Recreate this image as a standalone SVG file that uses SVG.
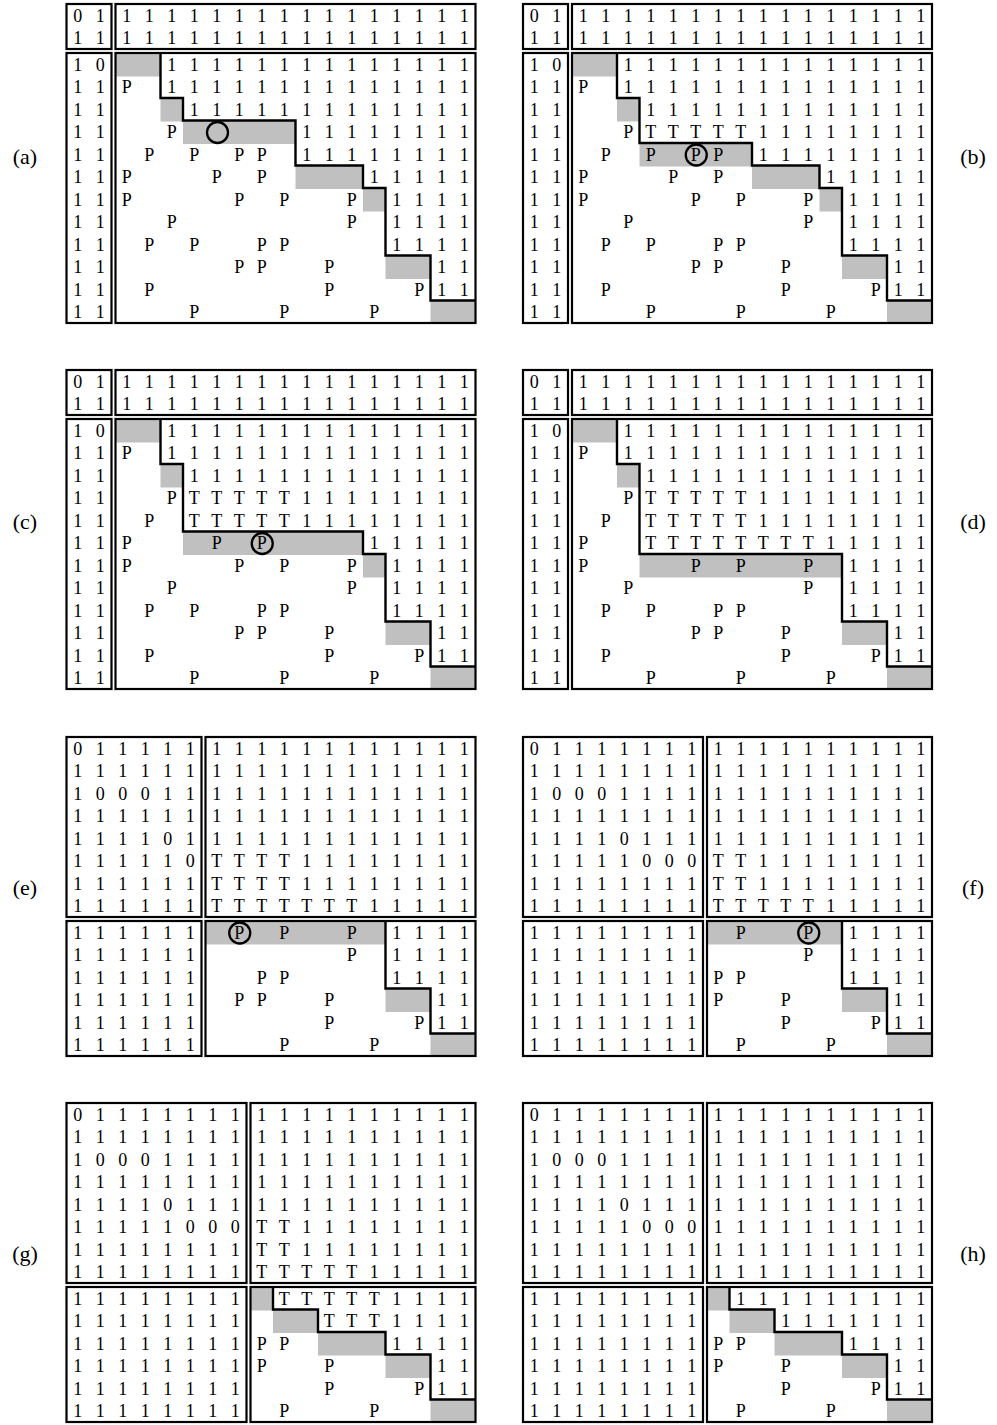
<svg xmlns="http://www.w3.org/2000/svg" width="997" height="1425" viewBox="0 0 997 1425">
<style>
.t{font-family:"Liberation Serif","Times New Roman",serif;font-size:18px;text-anchor:middle;fill:#000}
.lbl{font-family:"Liberation Serif","Times New Roman",serif;font-size:22px;text-anchor:middle;fill:#000}
.blk{fill:none;stroke:#000;stroke-width:2.2}
.g{fill:#c0c0c0}
.st{fill:none;stroke:#000;stroke-width:2.4;stroke-linejoin:miter}
.c{fill:none;stroke:#000;stroke-width:2.3}
</style>
<rect x="0" y="0" width="997" height="1425" fill="#fff"/>
<g id="labels">
<text class="lbl" x="25" y="163.5">(a)</text>
<text class="lbl" x="973" y="163.5">(b)</text>
<text class="lbl" x="25" y="529">(c)</text>
<text class="lbl" x="973" y="529">(d)</text>
<text class="lbl" x="25" y="894.5">(e)</text>
<text class="lbl" x="973" y="894.5">(f)</text>
<text class="lbl" x="25" y="1260.5">(g)</text>
<text class="lbl" x="973" y="1260.5">(h)</text>
</g>

<g id="panel-a" transform="translate(66.5,4)">
<rect class="g" x="49" y="49" width="45" height="23.5"/>
<rect class="g" x="94" y="94" width="22.5" height="23.5"/>
<rect class="g" x="116.5" y="116.5" width="112.5" height="23.5"/>
<rect class="g" x="229" y="161.5" width="67.5" height="23.5"/>
<rect class="g" x="296.5" y="184" width="22.5" height="23.5"/>
<rect class="g" x="319" y="251.5" width="45" height="23.5"/>
<rect class="g" x="364" y="296.5" width="45" height="22.5"/>
<text class="t" y="17.5" x="11.25 33.75 60.25 82.75 105.25 127.75 150.25 172.75 195.25 217.75 240.25 262.75 285.25 307.75 330.25 352.75 375.25 397.75">011111111111111111</text>
<text class="t" y="40" x="11.25 33.75 60.25 82.75 105.25 127.75 150.25 172.75 195.25 217.75 240.25 262.75 285.25 307.75 330.25 352.75 375.25 397.75">111111111111111111</text>
<text class="t" y="66.5" x="11.25 33.75 105.25 127.75 150.25 172.75 195.25 217.75 240.25 262.75 285.25 307.75 330.25 352.75 375.25 397.75">1011111111111111</text>
<text class="t" y="89" x="11.25 33.75 60.25 105.25 127.75 150.25 172.75 195.25 217.75 240.25 262.75 285.25 307.75 330.25 352.75 375.25 397.75">11P11111111111111</text>
<text class="t" y="111.5" x="11.25 33.75 127.75 150.25 172.75 195.25 217.75 240.25 262.75 285.25 307.75 330.25 352.75 375.25 397.75">111111111111111</text>
<text class="t" y="134" x="11.25 33.75 105.25 240.25 262.75 285.25 307.75 330.25 352.75 375.25 397.75">11P11111111</text>
<text class="t" y="156.5" x="11.25 33.75 82.75 127.75 172.75 195.25 240.25 262.75 285.25 307.75 330.25 352.75 375.25 397.75">11PPPP11111111</text>
<text class="t" y="179" x="11.25 33.75 60.25 150.25 195.25 307.75 330.25 352.75 375.25 397.75">11PPP11111</text>
<text class="t" y="201.5" x="11.25 33.75 60.25 172.75 217.75 285.25 330.25 352.75 375.25 397.75">11PPPP1111</text>
<text class="t" y="224" x="11.25 33.75 105.25 285.25 330.25 352.75 375.25 397.75">11PP1111</text>
<text class="t" y="246.5" x="11.25 33.75 82.75 127.75 195.25 217.75 330.25 352.75 375.25 397.75">11PPPP1111</text>
<text class="t" y="269" x="11.25 33.75 172.75 195.25 262.75 375.25 397.75">11PPP11</text>
<text class="t" y="291.5" x="11.25 33.75 82.75 262.75 352.75 375.25 397.75">11PPP11</text>
<text class="t" y="314" x="11.25 33.75 127.75 217.75 307.75">11PPP</text>
<rect class="blk" x="0" y="0" width="45" height="45"/>
<rect class="blk" x="49" y="0" width="360" height="45"/>
<rect class="blk" x="0" y="49" width="45" height="270"/>
<rect class="blk" x="49" y="49" width="360" height="270"/>
<path class="st" d="M94,49V94H116.5V116.5H229V161.5H296.5V184H319V251.5H364V296.5H409"/>
<circle class="c" cx="151" cy="128.5" r="10.5"/>
</g>

<g id="panel-b" transform="translate(523,4)">
<rect class="g" x="49" y="49" width="45" height="23.5"/>
<rect class="g" x="94" y="94" width="22.5" height="23.5"/>
<rect class="g" x="116.5" y="139" width="112.5" height="23.5"/>
<rect class="g" x="229" y="161.5" width="67.5" height="23.5"/>
<rect class="g" x="296.5" y="184" width="22.5" height="23.5"/>
<rect class="g" x="319" y="251.5" width="45" height="23.5"/>
<rect class="g" x="364" y="296.5" width="45" height="22.5"/>
<text class="t" y="17.5" x="11.25 33.75 60.25 82.75 105.25 127.75 150.25 172.75 195.25 217.75 240.25 262.75 285.25 307.75 330.25 352.75 375.25 397.75">011111111111111111</text>
<text class="t" y="40" x="11.25 33.75 60.25 82.75 105.25 127.75 150.25 172.75 195.25 217.75 240.25 262.75 285.25 307.75 330.25 352.75 375.25 397.75">111111111111111111</text>
<text class="t" y="66.5" x="11.25 33.75 105.25 127.75 150.25 172.75 195.25 217.75 240.25 262.75 285.25 307.75 330.25 352.75 375.25 397.75">1011111111111111</text>
<text class="t" y="89" x="11.25 33.75 60.25 105.25 127.75 150.25 172.75 195.25 217.75 240.25 262.75 285.25 307.75 330.25 352.75 375.25 397.75">11P11111111111111</text>
<text class="t" y="111.5" x="11.25 33.75 127.75 150.25 172.75 195.25 217.75 240.25 262.75 285.25 307.75 330.25 352.75 375.25 397.75">111111111111111</text>
<text class="t" y="134" x="11.25 33.75 105.25 127.75 150.25 172.75 195.25 217.75 240.25 262.75 285.25 307.75 330.25 352.75 375.25 397.75">11PTTTTT11111111</text>
<text class="t" y="156.5" x="11.25 33.75 82.75 127.75 172.75 195.25 240.25 262.75 285.25 307.75 330.25 352.75 375.25 397.75">11PPPP11111111</text>
<text class="t" y="179" x="11.25 33.75 60.25 150.25 195.25 307.75 330.25 352.75 375.25 397.75">11PPP11111</text>
<text class="t" y="201.5" x="11.25 33.75 60.25 172.75 217.75 285.25 330.25 352.75 375.25 397.75">11PPPP1111</text>
<text class="t" y="224" x="11.25 33.75 105.25 285.25 330.25 352.75 375.25 397.75">11PP1111</text>
<text class="t" y="246.5" x="11.25 33.75 82.75 127.75 195.25 217.75 330.25 352.75 375.25 397.75">11PPPP1111</text>
<text class="t" y="269" x="11.25 33.75 172.75 195.25 262.75 375.25 397.75">11PPP11</text>
<text class="t" y="291.5" x="11.25 33.75 82.75 262.75 352.75 375.25 397.75">11PPP11</text>
<text class="t" y="314" x="11.25 33.75 127.75 217.75 307.75">11PPP</text>
<rect class="blk" x="0" y="0" width="45" height="45"/>
<rect class="blk" x="49" y="0" width="360" height="45"/>
<rect class="blk" x="0" y="49" width="45" height="270"/>
<rect class="blk" x="49" y="49" width="360" height="270"/>
<path class="st" d="M94,49V94H116.5V139H229V161.5H296.5V184H319V251.5H364V296.5H409"/>
<circle class="c" cx="173.25" cy="151" r="10.5"/>
</g>

<g id="panel-c" transform="translate(66.5,370)">
<rect class="g" x="49" y="49" width="45" height="23.5"/>
<rect class="g" x="94" y="94" width="22.5" height="23.5"/>
<rect class="g" x="116.5" y="161.5" width="180" height="23.5"/>
<rect class="g" x="296.5" y="184" width="22.5" height="23.5"/>
<rect class="g" x="319" y="251.5" width="45" height="23.5"/>
<rect class="g" x="364" y="296.5" width="45" height="22.5"/>
<text class="t" y="17.5" x="11.25 33.75 60.25 82.75 105.25 127.75 150.25 172.75 195.25 217.75 240.25 262.75 285.25 307.75 330.25 352.75 375.25 397.75">011111111111111111</text>
<text class="t" y="40" x="11.25 33.75 60.25 82.75 105.25 127.75 150.25 172.75 195.25 217.75 240.25 262.75 285.25 307.75 330.25 352.75 375.25 397.75">111111111111111111</text>
<text class="t" y="66.5" x="11.25 33.75 105.25 127.75 150.25 172.75 195.25 217.75 240.25 262.75 285.25 307.75 330.25 352.75 375.25 397.75">1011111111111111</text>
<text class="t" y="89" x="11.25 33.75 60.25 105.25 127.75 150.25 172.75 195.25 217.75 240.25 262.75 285.25 307.75 330.25 352.75 375.25 397.75">11P11111111111111</text>
<text class="t" y="111.5" x="11.25 33.75 127.75 150.25 172.75 195.25 217.75 240.25 262.75 285.25 307.75 330.25 352.75 375.25 397.75">111111111111111</text>
<text class="t" y="134" x="11.25 33.75 105.25 127.75 150.25 172.75 195.25 217.75 240.25 262.75 285.25 307.75 330.25 352.75 375.25 397.75">11PTTTTT11111111</text>
<text class="t" y="156.5" x="11.25 33.75 82.75 127.75 150.25 172.75 195.25 217.75 240.25 262.75 285.25 307.75 330.25 352.75 375.25 397.75">11PTTTTT11111111</text>
<text class="t" y="179" x="11.25 33.75 60.25 150.25 195.25 307.75 330.25 352.75 375.25 397.75">11PPP11111</text>
<text class="t" y="201.5" x="11.25 33.75 60.25 172.75 217.75 285.25 330.25 352.75 375.25 397.75">11PPPP1111</text>
<text class="t" y="224" x="11.25 33.75 105.25 285.25 330.25 352.75 375.25 397.75">11PP1111</text>
<text class="t" y="246.5" x="11.25 33.75 82.75 127.75 195.25 217.75 330.25 352.75 375.25 397.75">11PPPP1111</text>
<text class="t" y="269" x="11.25 33.75 172.75 195.25 262.75 375.25 397.75">11PPP11</text>
<text class="t" y="291.5" x="11.25 33.75 82.75 262.75 352.75 375.25 397.75">11PPP11</text>
<text class="t" y="314" x="11.25 33.75 127.75 217.75 307.75">11PPP</text>
<rect class="blk" x="0" y="0" width="45" height="45"/>
<rect class="blk" x="49" y="0" width="360" height="45"/>
<rect class="blk" x="0" y="49" width="45" height="270"/>
<rect class="blk" x="49" y="49" width="360" height="270"/>
<path class="st" d="M94,49V94H116.5V161.5H296.5V184H319V251.5H364V296.5H409"/>
<circle class="c" cx="195.75" cy="173.5" r="10.5"/>
</g>

<g id="panel-d" transform="translate(523,370)">
<rect class="g" x="49" y="49" width="45" height="23.5"/>
<rect class="g" x="94" y="94" width="22.5" height="23.5"/>
<rect class="g" x="116.5" y="184" width="202.5" height="23.5"/>
<rect class="g" x="319" y="251.5" width="45" height="23.5"/>
<rect class="g" x="364" y="296.5" width="45" height="22.5"/>
<text class="t" y="17.5" x="11.25 33.75 60.25 82.75 105.25 127.75 150.25 172.75 195.25 217.75 240.25 262.75 285.25 307.75 330.25 352.75 375.25 397.75">011111111111111111</text>
<text class="t" y="40" x="11.25 33.75 60.25 82.75 105.25 127.75 150.25 172.75 195.25 217.75 240.25 262.75 285.25 307.75 330.25 352.75 375.25 397.75">111111111111111111</text>
<text class="t" y="66.5" x="11.25 33.75 105.25 127.75 150.25 172.75 195.25 217.75 240.25 262.75 285.25 307.75 330.25 352.75 375.25 397.75">1011111111111111</text>
<text class="t" y="89" x="11.25 33.75 60.25 105.25 127.75 150.25 172.75 195.25 217.75 240.25 262.75 285.25 307.75 330.25 352.75 375.25 397.75">11P11111111111111</text>
<text class="t" y="111.5" x="11.25 33.75 127.75 150.25 172.75 195.25 217.75 240.25 262.75 285.25 307.75 330.25 352.75 375.25 397.75">111111111111111</text>
<text class="t" y="134" x="11.25 33.75 105.25 127.75 150.25 172.75 195.25 217.75 240.25 262.75 285.25 307.75 330.25 352.75 375.25 397.75">11PTTTTT11111111</text>
<text class="t" y="156.5" x="11.25 33.75 82.75 127.75 150.25 172.75 195.25 217.75 240.25 262.75 285.25 307.75 330.25 352.75 375.25 397.75">11PTTTTT11111111</text>
<text class="t" y="179" x="11.25 33.75 60.25 127.75 150.25 172.75 195.25 217.75 240.25 262.75 285.25 307.75 330.25 352.75 375.25 397.75">11PTTTTTTTT11111</text>
<text class="t" y="201.5" x="11.25 33.75 60.25 172.75 217.75 285.25 330.25 352.75 375.25 397.75">11PPPP1111</text>
<text class="t" y="224" x="11.25 33.75 105.25 285.25 330.25 352.75 375.25 397.75">11PP1111</text>
<text class="t" y="246.5" x="11.25 33.75 82.75 127.75 195.25 217.75 330.25 352.75 375.25 397.75">11PPPP1111</text>
<text class="t" y="269" x="11.25 33.75 172.75 195.25 262.75 375.25 397.75">11PPP11</text>
<text class="t" y="291.5" x="11.25 33.75 82.75 262.75 352.75 375.25 397.75">11PPP11</text>
<text class="t" y="314" x="11.25 33.75 127.75 217.75 307.75">11PPP</text>
<rect class="blk" x="0" y="0" width="45" height="45"/>
<rect class="blk" x="49" y="0" width="360" height="45"/>
<rect class="blk" x="0" y="49" width="45" height="270"/>
<rect class="blk" x="49" y="49" width="360" height="270"/>
<path class="st" d="M94,49V94H116.5V184H319V251.5H364V296.5H409"/>
</g>

<g id="panel-e" transform="translate(66.5,737)">
<rect class="g" x="139" y="184" width="180" height="23.5"/>
<rect class="g" x="319" y="251.5" width="45" height="23.5"/>
<rect class="g" x="364" y="296.5" width="45" height="22.5"/>
<text class="t" y="17.5" x="11.25 33.75 56.25 78.75 101.25 123.75 150.25 172.75 195.25 217.75 240.25 262.75 285.25 307.75 330.25 352.75 375.25 397.75">011111111111111111</text>
<text class="t" y="40" x="11.25 33.75 56.25 78.75 101.25 123.75 150.25 172.75 195.25 217.75 240.25 262.75 285.25 307.75 330.25 352.75 375.25 397.75">111111111111111111</text>
<text class="t" y="62.5" x="11.25 33.75 56.25 78.75 101.25 123.75 150.25 172.75 195.25 217.75 240.25 262.75 285.25 307.75 330.25 352.75 375.25 397.75">100011111111111111</text>
<text class="t" y="85" x="11.25 33.75 56.25 78.75 101.25 123.75 150.25 172.75 195.25 217.75 240.25 262.75 285.25 307.75 330.25 352.75 375.25 397.75">111111111111111111</text>
<text class="t" y="107.5" x="11.25 33.75 56.25 78.75 101.25 123.75 150.25 172.75 195.25 217.75 240.25 262.75 285.25 307.75 330.25 352.75 375.25 397.75">111101111111111111</text>
<text class="t" y="130" x="11.25 33.75 56.25 78.75 101.25 123.75 150.25 172.75 195.25 217.75 240.25 262.75 285.25 307.75 330.25 352.75 375.25 397.75">111110TTTT11111111</text>
<text class="t" y="152.5" x="11.25 33.75 56.25 78.75 101.25 123.75 150.25 172.75 195.25 217.75 240.25 262.75 285.25 307.75 330.25 352.75 375.25 397.75">111111TTTT11111111</text>
<text class="t" y="175" x="11.25 33.75 56.25 78.75 101.25 123.75 150.25 172.75 195.25 217.75 240.25 262.75 285.25 307.75 330.25 352.75 375.25 397.75">111111TTTTTTT11111</text>
<text class="t" y="201.5" x="11.25 33.75 56.25 78.75 101.25 123.75 172.75 217.75 285.25 330.25 352.75 375.25 397.75">111111PPP1111</text>
<text class="t" y="224" x="11.25 33.75 56.25 78.75 101.25 123.75 285.25 330.25 352.75 375.25 397.75">111111P1111</text>
<text class="t" y="246.5" x="11.25 33.75 56.25 78.75 101.25 123.75 195.25 217.75 330.25 352.75 375.25 397.75">111111PP1111</text>
<text class="t" y="269" x="11.25 33.75 56.25 78.75 101.25 123.75 172.75 195.25 262.75 375.25 397.75">111111PPP11</text>
<text class="t" y="291.5" x="11.25 33.75 56.25 78.75 101.25 123.75 262.75 352.75 375.25 397.75">111111PP11</text>
<text class="t" y="314" x="11.25 33.75 56.25 78.75 101.25 123.75 217.75 307.75">111111PP</text>
<rect class="blk" x="0" y="0" width="135" height="180"/>
<rect class="blk" x="139" y="0" width="270" height="180"/>
<rect class="blk" x="0" y="184" width="135" height="135"/>
<rect class="blk" x="139" y="184" width="270" height="135"/>
<path class="st" d="M319,184V251.5H364V296.5H409"/>
<circle class="c" cx="173.25" cy="196" r="10.5"/>
</g>

<g id="panel-f" transform="translate(523,737)">
<rect class="g" x="184" y="184" width="135" height="23.5"/>
<rect class="g" x="319" y="251.5" width="45" height="23.5"/>
<rect class="g" x="364" y="296.5" width="45" height="22.5"/>
<text class="t" y="17.5" x="11.25 33.75 56.25 78.75 101.25 123.75 146.25 168.75 195.25 217.75 240.25 262.75 285.25 307.75 330.25 352.75 375.25 397.75">011111111111111111</text>
<text class="t" y="40" x="11.25 33.75 56.25 78.75 101.25 123.75 146.25 168.75 195.25 217.75 240.25 262.75 285.25 307.75 330.25 352.75 375.25 397.75">111111111111111111</text>
<text class="t" y="62.5" x="11.25 33.75 56.25 78.75 101.25 123.75 146.25 168.75 195.25 217.75 240.25 262.75 285.25 307.75 330.25 352.75 375.25 397.75">100011111111111111</text>
<text class="t" y="85" x="11.25 33.75 56.25 78.75 101.25 123.75 146.25 168.75 195.25 217.75 240.25 262.75 285.25 307.75 330.25 352.75 375.25 397.75">111111111111111111</text>
<text class="t" y="107.5" x="11.25 33.75 56.25 78.75 101.25 123.75 146.25 168.75 195.25 217.75 240.25 262.75 285.25 307.75 330.25 352.75 375.25 397.75">111101111111111111</text>
<text class="t" y="130" x="11.25 33.75 56.25 78.75 101.25 123.75 146.25 168.75 195.25 217.75 240.25 262.75 285.25 307.75 330.25 352.75 375.25 397.75">11111000TT11111111</text>
<text class="t" y="152.5" x="11.25 33.75 56.25 78.75 101.25 123.75 146.25 168.75 195.25 217.75 240.25 262.75 285.25 307.75 330.25 352.75 375.25 397.75">11111111TT11111111</text>
<text class="t" y="175" x="11.25 33.75 56.25 78.75 101.25 123.75 146.25 168.75 195.25 217.75 240.25 262.75 285.25 307.75 330.25 352.75 375.25 397.75">11111111TTTTT11111</text>
<text class="t" y="201.5" x="11.25 33.75 56.25 78.75 101.25 123.75 146.25 168.75 217.75 285.25 330.25 352.75 375.25 397.75">11111111PP1111</text>
<text class="t" y="224" x="11.25 33.75 56.25 78.75 101.25 123.75 146.25 168.75 285.25 330.25 352.75 375.25 397.75">11111111P1111</text>
<text class="t" y="246.5" x="11.25 33.75 56.25 78.75 101.25 123.75 146.25 168.75 195.25 217.75 330.25 352.75 375.25 397.75">11111111PP1111</text>
<text class="t" y="269" x="11.25 33.75 56.25 78.75 101.25 123.75 146.25 168.75 195.25 262.75 375.25 397.75">11111111PP11</text>
<text class="t" y="291.5" x="11.25 33.75 56.25 78.75 101.25 123.75 146.25 168.75 262.75 352.75 375.25 397.75">11111111PP11</text>
<text class="t" y="314" x="11.25 33.75 56.25 78.75 101.25 123.75 146.25 168.75 217.75 307.75">11111111PP</text>
<rect class="blk" x="0" y="0" width="180" height="180"/>
<rect class="blk" x="184" y="0" width="225" height="180"/>
<rect class="blk" x="0" y="184" width="180" height="135"/>
<rect class="blk" x="184" y="184" width="225" height="135"/>
<path class="st" d="M319,184V251.5H364V296.5H409"/>
<circle class="c" cx="285.75" cy="196" r="10.5"/>
</g>

<g id="panel-g" transform="translate(66.5,1103)">
<rect class="g" x="184" y="184" width="22.5" height="23.5"/>
<rect class="g" x="206.5" y="206.5" width="45" height="23.5"/>
<rect class="g" x="251.5" y="229" width="67.5" height="23.5"/>
<rect class="g" x="319" y="251.5" width="45" height="23.5"/>
<rect class="g" x="364" y="296.5" width="45" height="22.5"/>
<text class="t" y="17.5" x="11.25 33.75 56.25 78.75 101.25 123.75 146.25 168.75 195.25 217.75 240.25 262.75 285.25 307.75 330.25 352.75 375.25 397.75">011111111111111111</text>
<text class="t" y="40" x="11.25 33.75 56.25 78.75 101.25 123.75 146.25 168.75 195.25 217.75 240.25 262.75 285.25 307.75 330.25 352.75 375.25 397.75">111111111111111111</text>
<text class="t" y="62.5" x="11.25 33.75 56.25 78.75 101.25 123.75 146.25 168.75 195.25 217.75 240.25 262.75 285.25 307.75 330.25 352.75 375.25 397.75">100011111111111111</text>
<text class="t" y="85" x="11.25 33.75 56.25 78.75 101.25 123.75 146.25 168.75 195.25 217.75 240.25 262.75 285.25 307.75 330.25 352.75 375.25 397.75">111111111111111111</text>
<text class="t" y="107.5" x="11.25 33.75 56.25 78.75 101.25 123.75 146.25 168.75 195.25 217.75 240.25 262.75 285.25 307.75 330.25 352.75 375.25 397.75">111101111111111111</text>
<text class="t" y="130" x="11.25 33.75 56.25 78.75 101.25 123.75 146.25 168.75 195.25 217.75 240.25 262.75 285.25 307.75 330.25 352.75 375.25 397.75">11111000TT11111111</text>
<text class="t" y="152.5" x="11.25 33.75 56.25 78.75 101.25 123.75 146.25 168.75 195.25 217.75 240.25 262.75 285.25 307.75 330.25 352.75 375.25 397.75">11111111TT11111111</text>
<text class="t" y="175" x="11.25 33.75 56.25 78.75 101.25 123.75 146.25 168.75 195.25 217.75 240.25 262.75 285.25 307.75 330.25 352.75 375.25 397.75">11111111TTTTT11111</text>
<text class="t" y="201.5" x="11.25 33.75 56.25 78.75 101.25 123.75 146.25 168.75 217.75 240.25 262.75 285.25 307.75 330.25 352.75 375.25 397.75">11111111TTTTT1111</text>
<text class="t" y="224" x="11.25 33.75 56.25 78.75 101.25 123.75 146.25 168.75 262.75 285.25 307.75 330.25 352.75 375.25 397.75">11111111TTT1111</text>
<text class="t" y="246.5" x="11.25 33.75 56.25 78.75 101.25 123.75 146.25 168.75 195.25 217.75 330.25 352.75 375.25 397.75">11111111PP1111</text>
<text class="t" y="269" x="11.25 33.75 56.25 78.75 101.25 123.75 146.25 168.75 195.25 262.75 375.25 397.75">11111111PP11</text>
<text class="t" y="291.5" x="11.25 33.75 56.25 78.75 101.25 123.75 146.25 168.75 262.75 352.75 375.25 397.75">11111111PP11</text>
<text class="t" y="314" x="11.25 33.75 56.25 78.75 101.25 123.75 146.25 168.75 217.75 307.75">11111111PP</text>
<rect class="blk" x="0" y="0" width="180" height="180"/>
<rect class="blk" x="184" y="0" width="225" height="180"/>
<rect class="blk" x="0" y="184" width="180" height="135"/>
<rect class="blk" x="184" y="184" width="225" height="135"/>
<path class="st" d="M206.5,184V206.5H251.5V229H319V251.5H364V296.5H409"/>
</g>

<g id="panel-h" transform="translate(523,1103)">
<rect class="g" x="184" y="184" width="22.5" height="23.5"/>
<rect class="g" x="206.5" y="206.5" width="45" height="23.5"/>
<rect class="g" x="251.5" y="229" width="67.5" height="23.5"/>
<rect class="g" x="319" y="251.5" width="45" height="23.5"/>
<rect class="g" x="364" y="296.5" width="45" height="22.5"/>
<text class="t" y="17.5" x="11.25 33.75 56.25 78.75 101.25 123.75 146.25 168.75 195.25 217.75 240.25 262.75 285.25 307.75 330.25 352.75 375.25 397.75">011111111111111111</text>
<text class="t" y="40" x="11.25 33.75 56.25 78.75 101.25 123.75 146.25 168.75 195.25 217.75 240.25 262.75 285.25 307.75 330.25 352.75 375.25 397.75">111111111111111111</text>
<text class="t" y="62.5" x="11.25 33.75 56.25 78.75 101.25 123.75 146.25 168.75 195.25 217.75 240.25 262.75 285.25 307.75 330.25 352.75 375.25 397.75">100011111111111111</text>
<text class="t" y="85" x="11.25 33.75 56.25 78.75 101.25 123.75 146.25 168.75 195.25 217.75 240.25 262.75 285.25 307.75 330.25 352.75 375.25 397.75">111111111111111111</text>
<text class="t" y="107.5" x="11.25 33.75 56.25 78.75 101.25 123.75 146.25 168.75 195.25 217.75 240.25 262.75 285.25 307.75 330.25 352.75 375.25 397.75">111101111111111111</text>
<text class="t" y="130" x="11.25 33.75 56.25 78.75 101.25 123.75 146.25 168.75 195.25 217.75 240.25 262.75 285.25 307.75 330.25 352.75 375.25 397.75">111110001111111111</text>
<text class="t" y="152.5" x="11.25 33.75 56.25 78.75 101.25 123.75 146.25 168.75 195.25 217.75 240.25 262.75 285.25 307.75 330.25 352.75 375.25 397.75">111111111111111111</text>
<text class="t" y="175" x="11.25 33.75 56.25 78.75 101.25 123.75 146.25 168.75 195.25 217.75 240.25 262.75 285.25 307.75 330.25 352.75 375.25 397.75">111111111111111111</text>
<text class="t" y="201.5" x="11.25 33.75 56.25 78.75 101.25 123.75 146.25 168.75 217.75 240.25 262.75 285.25 307.75 330.25 352.75 375.25 397.75">11111111111111111</text>
<text class="t" y="224" x="11.25 33.75 56.25 78.75 101.25 123.75 146.25 168.75 262.75 285.25 307.75 330.25 352.75 375.25 397.75">111111111111111</text>
<text class="t" y="246.5" x="11.25 33.75 56.25 78.75 101.25 123.75 146.25 168.75 195.25 217.75 330.25 352.75 375.25 397.75">11111111PP1111</text>
<text class="t" y="269" x="11.25 33.75 56.25 78.75 101.25 123.75 146.25 168.75 195.25 262.75 375.25 397.75">11111111PP11</text>
<text class="t" y="291.5" x="11.25 33.75 56.25 78.75 101.25 123.75 146.25 168.75 262.75 352.75 375.25 397.75">11111111PP11</text>
<text class="t" y="314" x="11.25 33.75 56.25 78.75 101.25 123.75 146.25 168.75 217.75 307.75">11111111PP</text>
<rect class="blk" x="0" y="0" width="180" height="180"/>
<rect class="blk" x="184" y="0" width="225" height="180"/>
<rect class="blk" x="0" y="184" width="180" height="135"/>
<rect class="blk" x="184" y="184" width="225" height="135"/>
<path class="st" d="M206.5,184V206.5H251.5V229H319V251.5H364V296.5H409"/>
</g>
</svg>
